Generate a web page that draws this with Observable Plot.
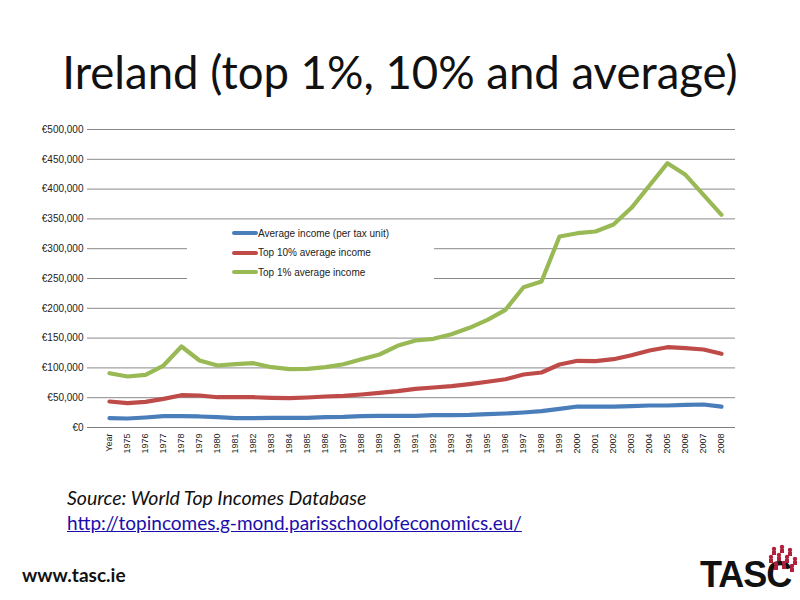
<!DOCTYPE html>
<html>
<head>
<meta charset="utf-8">
<script src="https://cdn.jsdelivr.net/npm/d3@7"></script>
<script src="https://cdn.jsdelivr.net/npm/@observablehq/plot@0.6"></script>
<style>
  html, body { margin: 0; padding: 0; background: #fff; }
  #page { position: relative; width: 800px; height: 600px; overflow: hidden; font-family: Lato, "Open Sans", sans-serif; }
  #title { position: absolute; left: 0; width: 800px; top: 44px; text-align: center; font-size: 45.5px; color: #111; font-family: Lato, sans-serif; }
  #chart { position: absolute; left: 0; top: 115px; }
  #legend { position: absolute; left: 187px; top: 224px; width: 247px; height: 62px; background: #fff; font-family: "Liberation Sans", Arial, sans-serif; font-size: 10px; color: #222; }
  .li { position: absolute; left: 45px; height: 12px; display: flex; align-items: center; white-space: nowrap; }
  .sw { width: 26px; height: 4px; border-radius: 2px; margin-right: 0px; }
  #src { position: absolute; left: 67px; top: 486px; font-size: 19.5px; font-style: italic; color: #111; font-family: Lato, sans-serif; }
  #url { position: absolute; left: 67px; top: 511px; font-size: 19px; color: #1a0dab; text-decoration: underline; font-family: Lato, sans-serif; }
  #www { position: absolute; left: 22px; top: 563px; font-size: 19px; font-weight: bold; color: #111; font-family: Lato, sans-serif; }
  #logo { position: absolute; left: 700px; top: 554px; font-size: 36px; font-weight: 900; color: #111; font-family: "Liberation Sans Narrow", "Liberation Sans", sans-serif; letter-spacing: -1px; }
</style>
</head>
<body>
<div id="page">
  <div id="title">Ireland (top 1%, 10% and average)</div>
  <div id="chart"></div>
  <div id="legend"></div>
  <div id="src">Source: World Top Incomes Database</div>
  <div id="url">http://topincomes.g-mond.parisschoolofeconomics.eu/</div>
  <div id="www">www.tasc.ie</div>
  <div id="logo">TASC</div>
  <svg id="logoicon" style="position:absolute;left:766px;top:543px" width="34" height="30"></svg>
</div>
<script>
const categories = ["Year","1975","1976","1977","1978","1979","1980","1981","1982","1983","1984","1985","1986","1987","1988","1989","1990","1991","1992","1993","1994","1995","1996","1997","1998","1999","2000","2001","2002","2003","2004","2005","2006","2007","2008"];

const averageIncome = [15600,15100,16800,19000,19000,18500,17300,15800,15600,16000,16000,16000,17300,17800,19000,19500,19500,19600,20600,20600,21100,22300,23500,25200,27400,31300,35200,34900,34900,35700,36900,36900,38000,38600,34900];

const top10Income = [43600,40800,43100,48100,54200,53700,50800,50800,50800,49800,49200,50300,52000,53200,55400,58200,60900,64900,67100,69300,72700,76700,81000,88900,92300,105700,111900,111300,114600,121300,129200,134700,133100,130900,123700];

const top1Income = [91100,85600,88400,104000,135900,112400,104000,106200,107900,101200,97800,98500,101200,106200,114600,122500,137000,146000,148800,156500,167200,180700,197500,235400,245000,320500,326000,328900,340600,368600,406000,443500,424000,390400,356900];

const seriesNames = ["Average income (per tax unit)","Top 10% average income","Top 1% average income"];
const seriesColors = ["#4A7EBB","#BE4B48","#98B954"];
const yTicks = [0,50000,100000,150000,200000,250000,300000,350000,400000,450000,500000];

const seriesValues = [averageIncome, top10Income, top1Income];
const rows = [];
seriesNames.forEach((name, s) => {
  categories.forEach((c, i) => rows.push({series: name, cat: c, value: seriesValues[s][i]}));
});

const euro = d => "€" + d3.format(",")(d);

const chart = Plot.plot({
  width: 800,
  height: 350,
  marginLeft: 87,
  marginRight: 65,
  marginTop: 14,
  marginBottom: 38,
  style: {fontFamily: "'Liberation Sans', Arial, sans-serif", fontSize: "10px", color: "#222", background: "transparent"},
  x: {type: "point", domain: categories, padding: 0.7, align: 0.615, label: null},
  y: {domain: [0, 500000], label: null},
  color: {domain: seriesNames, range: seriesColors},
  marks: [
    Plot.ruleY(yTicks.filter(d => d > 0), {stroke: "#8a8a8a", strokeWidth: 1}),
    Plot.ruleY([0], {stroke: "#7f7f7f", strokeWidth: 1}),
    Plot.axisY({ticks: yTicks, tickFormat: euro, tickSize: 0, tickPadding: 4, label: null, fontSize: 10}),
    Plot.axisX({tickRotate: -90, tickSize: 0, tickPadding: 6, label: null, fontSize: 9}),
    Plot.line(rows, {x: "cat", y: "value", z: "series", stroke: "series", strokeWidth: 4.2, strokeLinejoin: "round", strokeLinecap: "round"})
  ]
});
document.getElementById("chart").appendChild(chart);

const legend = document.getElementById("legend");
seriesNames.forEach((name, i) => {
  const item = document.createElement("div");
  item.className = "li";
  item.style.top = (3 + i * 19.5) + "px";
  const sw = document.createElement("span");
  sw.className = "sw";
  sw.style.background = seriesColors[i];
  item.appendChild(sw);
  const t = document.createElement("span");
  t.textContent = name;
  item.appendChild(t);
  legend.appendChild(item);
});

// small decorative figures for the logo
const icon = d3.select("#logoicon");
[[8,6],[16,4],[24,7],[5,14],[13,12],[21,14],[29,16],[10,21],[18,20],[26,23]].forEach(([cx, cy]) => {
  icon.append("circle").attr("cx", cx).attr("cy", cy).attr("r", 2.2).attr("fill", "#b0203a");
  icon.append("rect").attr("x", cx - 2).attr("y", cy + 2).attr("width", 4).attr("height", 4).attr("fill", "#b0203a");
});
</script>
</body>
</html>
